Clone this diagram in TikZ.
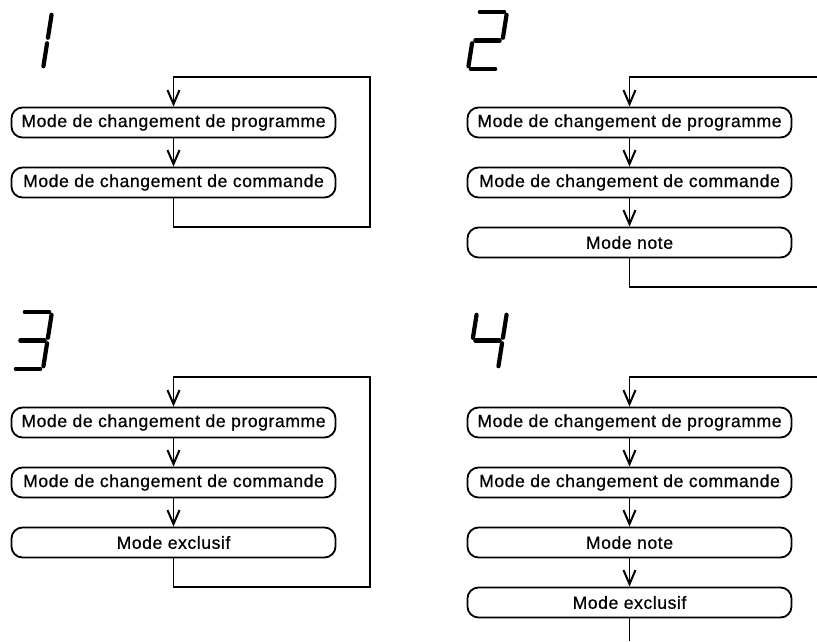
\documentclass[tikz,border=0pt]{standalone}
\usepackage{fontspec}
\setmainfont{Liberation Sans}
\newfontfamily\boxfont[LetterSpace=3.2, FakeBold=0.6]{Liberation Sans}
\usetikzlibrary{arrows.meta}
\tikzset{
  modebox/.style={draw, line width=1.8pt, rounded corners=11pt, minimum width=324pt,
    minimum height=30pt, inner sep=0pt, font=\boxfont\fontsize{17.6}{20}\selectfont},
  link/.style={line width=1.3pt},
  arr/.style={link, -{Straight Barb[length=14pt,width=12pt,line width=2pt]}},
  seg/.style={line width=4.2pt, line cap=round, shorten <=2.8pt, shorten >=2.8pt}
}
\newcommand{\dsegs}[3]{%
  \begin{scope}[shift={(#1,#2)}]
    \coordinate (TL) at (9,0); \coordinate (TR) at (39,0);
    \coordinate (ML) at (4.5,28.5); \coordinate (MR) at (34.5,28.5);
    \coordinate (BL) at (0,57); \coordinate (BR) at (30,57);
    \foreach \p/\q in {#3} {\draw[seg] (\p) -- (\q);}
  \end{scope}}
\begin{document}
\begin{tikzpicture}[x=1pt, y=-1pt]
\useasboundingbox (0,0) rectangle (817,641);

% digits
\dsegs{13}{12}{TR/MR, MR/BR}
\dsegs{468}{12}{TL/TR, TR/MR, ML/MR, ML/BL, BL/BR}
\dsegs{13}{312}{TL/TR, TR/MR, ML/MR, MR/BR, BL/BR}
\dsegs{468}{312}{TL/ML, ML/MR, TR/MR, MR/BR}

% panel 1
\node[modebox] (p1a) at (173.5,122.5) {Mode de changement de programme};
\node[modebox] (p1b) at (173.5,182.5) {Mode de changement de commande};
\coordinate (t1) at (173.5,77);
\coordinate (tr1) at (370,77);
\coordinate (br1) at (370,227);
\coordinate (bl1) at (173.5,227);
\draw[arr] (p1a.south) -- (p1b.north);
\draw[arr] (p1b.south) -- (bl1) -- (br1) -- (tr1) -- (t1) -- (p1a.north);

% panel 2
\node[modebox] (p2a) at (629.5,122.5) {Mode de changement de programme};
\node[modebox] (p2b) at (629.5,182.5) {Mode de changement de commande};
\node[modebox] (p2c) at (629.5,242.5) {Mode note};
\coordinate (t2) at (629.5,77);
\coordinate (te2) at (817,77);
\coordinate (bl2) at (629.5,287);
\coordinate (be2) at (817,287);
\draw[arr] (p2a.south) -- (p2b.north);
\draw[arr] (p2b.south) -- (p2c.north);
\draw[arr] (te2) -- (t2) -- (p2a.north);
\draw[link] (p2c.south) -- (bl2) -- (be2);

% panel 3
\node[modebox] (p3a) at (173.5,422.5) {Mode de changement de programme};
\node[modebox] (p3b) at (173.5,482.5) {Mode de changement de commande};
\node[modebox] (p3c) at (173.5,542.5) {Mode exclusif};
\coordinate (t3) at (173.5,377);
\coordinate (tr3) at (370,377);
\coordinate (br3) at (370,587);
\coordinate (bl3) at (173.5,587);
\draw[arr] (p3a.south) -- (p3b.north);
\draw[arr] (p3b.south) -- (p3c.north);
\draw[arr] (p3c.south) -- (bl3) -- (br3) -- (tr3) -- (t3) -- (p3a.north);

% panel 4
\node[modebox] (p4a) at (629.5,422.5) {Mode de changement de programme};
\node[modebox] (p4b) at (629.5,482.5) {Mode de changement de commande};
\node[modebox] (p4c) at (629.5,542.5) {Mode note};
\node[modebox] (p4d) at (629.5,602.5) {Mode exclusif};
\coordinate (t4) at (629.5,377);
\coordinate (te4) at (817,377);
\coordinate (be4) at (629.5,641);
\draw[arr] (p4a.south) -- (p4b.north);
\draw[arr] (p4b.south) -- (p4c.north);
\draw[arr] (p4c.south) -- (p4d.north);
\draw[arr] (te4) -- (t4) -- (p4a.north);
\draw[link] (p4d.south) -- (be4);
\end{tikzpicture}
\end{document}
